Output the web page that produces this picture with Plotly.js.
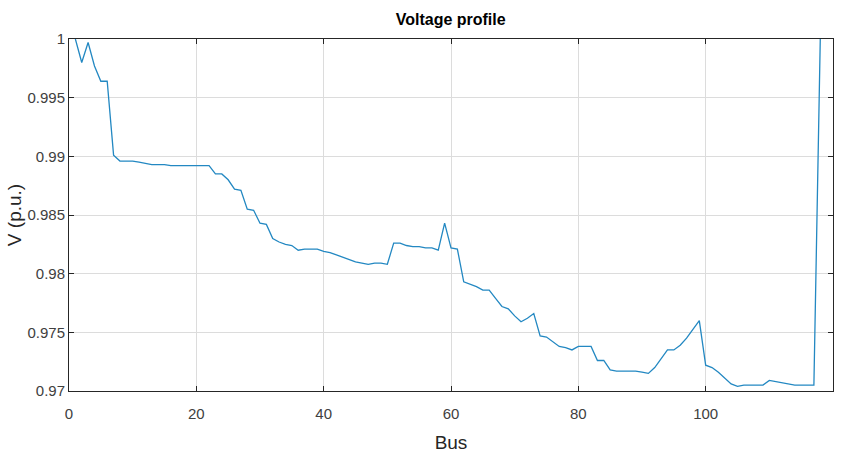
<!DOCTYPE html>
<html>
<head>
<meta charset="utf-8">
<script src="https://cdn.plot.ly/plotly-3.0.1.min.js"></script>
<style>html,body{margin:0;padding:0;background:#fff;}#chart{width:844px;height:459px;}</style>
</head>
<body>
<div id="chart"></div>
<script>
const bus = [];
for (let i = 1; i <= 118; i++) bus.push(i);

const voltage = [
  1.0000, 0.9980, 0.9997, 0.9977, 0.9964, 0.9964, 0.9901, 0.9896, 0.9896, 0.9896,
  0.9895, 0.9894, 0.9893, 0.9893, 0.9893, 0.9892, 0.9892, 0.9892, 0.9892, 0.9892,
  0.9892, 0.9892, 0.9885, 0.9885, 0.9880, 0.9872, 0.9871, 0.9855, 0.9854, 0.9843,
  0.9842, 0.9830, 0.9827, 0.9825, 0.9824, 0.9820, 0.9821, 0.9821, 0.9821, 0.9819,
  0.9818, 0.9816, 0.9814, 0.9812, 0.9810, 0.9809, 0.9808, 0.9809, 0.9809, 0.9808,
  0.9826, 0.9826, 0.9824, 0.9823, 0.9823, 0.9822, 0.9822, 0.9820, 0.9843, 0.9822,
  0.9821, 0.9793, 0.9791, 0.9789, 0.9786, 0.9786, 0.9779, 0.9772, 0.9770, 0.9764,
  0.9759, 0.9762, 0.9766, 0.9747, 0.9746, 0.9742, 0.9738, 0.9737, 0.9735, 0.9738,
  0.9738, 0.9738, 0.9726, 0.9726, 0.9718, 0.9717, 0.9717, 0.9717, 0.9717, 0.9716,
  0.9715, 0.9720, 0.9727, 0.9735, 0.9735, 0.9739, 0.9745, 0.9752, 0.9760, 0.9722,
  0.9720, 0.9716, 0.9711, 0.9706, 0.9704, 0.9705, 0.9705, 0.9705, 0.9705, 0.9709,
  0.9708, 0.9707, 0.9706, 0.9705, 0.9705, 0.9705, 0.9705, 1.0000
];

const xTickVals = [0, 20, 40, 60, 80, 100, 120];
const xTickText = ['0', '20', '40', '60', '80', '100', '120'];
const yTickVals = [0.97, 0.975, 0.98, 0.985, 0.99, 0.995, 1];
const yTickText = ['0.97', '0.975', '0.98', '0.985', '0.99', '0.995', '1'];

const FONT = 'Liberation Sans, Arial, sans-serif';

const trace = {
  x: bus, y: voltage, type: 'scatter', mode: 'lines',
  line: {color: '#2388c2', width: 1.3},
  hoverinfo: 'skip'
};

const axisCommon = {
  showgrid: true, gridcolor: '#dcdcdc', gridwidth: 1,
  showline: true, linecolor: '#262626', linewidth: 1, mirror: 'ticks',
  ticks: 'inside', ticklen: 5, tickcolor: '#262626', tickwidth: 1,
  zeroline: false, tickmode: 'array', automargin: false
};

const layout = {
  width: 844, height: 459,
  margin: {l: 69, r: 11, t: 39, b: 68},
  paper_bgcolor: '#ffffff', plot_bgcolor: '#ffffff',
  showlegend: false,
  title: {text: '<b>Voltage profile</b>', x: 0.534, xanchor: 'center', y: 0.958, yanchor: 'middle',
          font: {family: FONT, size: 16, color: '#000000'}},
  xaxis: Object.assign({}, axisCommon, {
    range: [0, 120], tickvals: xTickVals, ticktext: xTickText,
    ticklabelstandoff: 9,
    tickfont: {family: FONT, size: 15, color: '#404040'},
    title: {text: 'Bus', font: {family: FONT, size: 19, color: '#262626'}, standoff: 14}
  }),
  yaxis: Object.assign({}, axisCommon, {
    range: [0.97, 1], tickvals: yTickVals, ticktext: yTickText,
    tickfont: {family: FONT, size: 15, color: '#404040'},
    title: {text: 'V (p.u.)', font: {family: FONT, size: 19, color: '#262626'}, standoff: 0}
  })
};

Plotly.newPlot('chart', [trace], layout, {displayModeBar: false, staticPlot: true});
</script>
</body>
</html>
